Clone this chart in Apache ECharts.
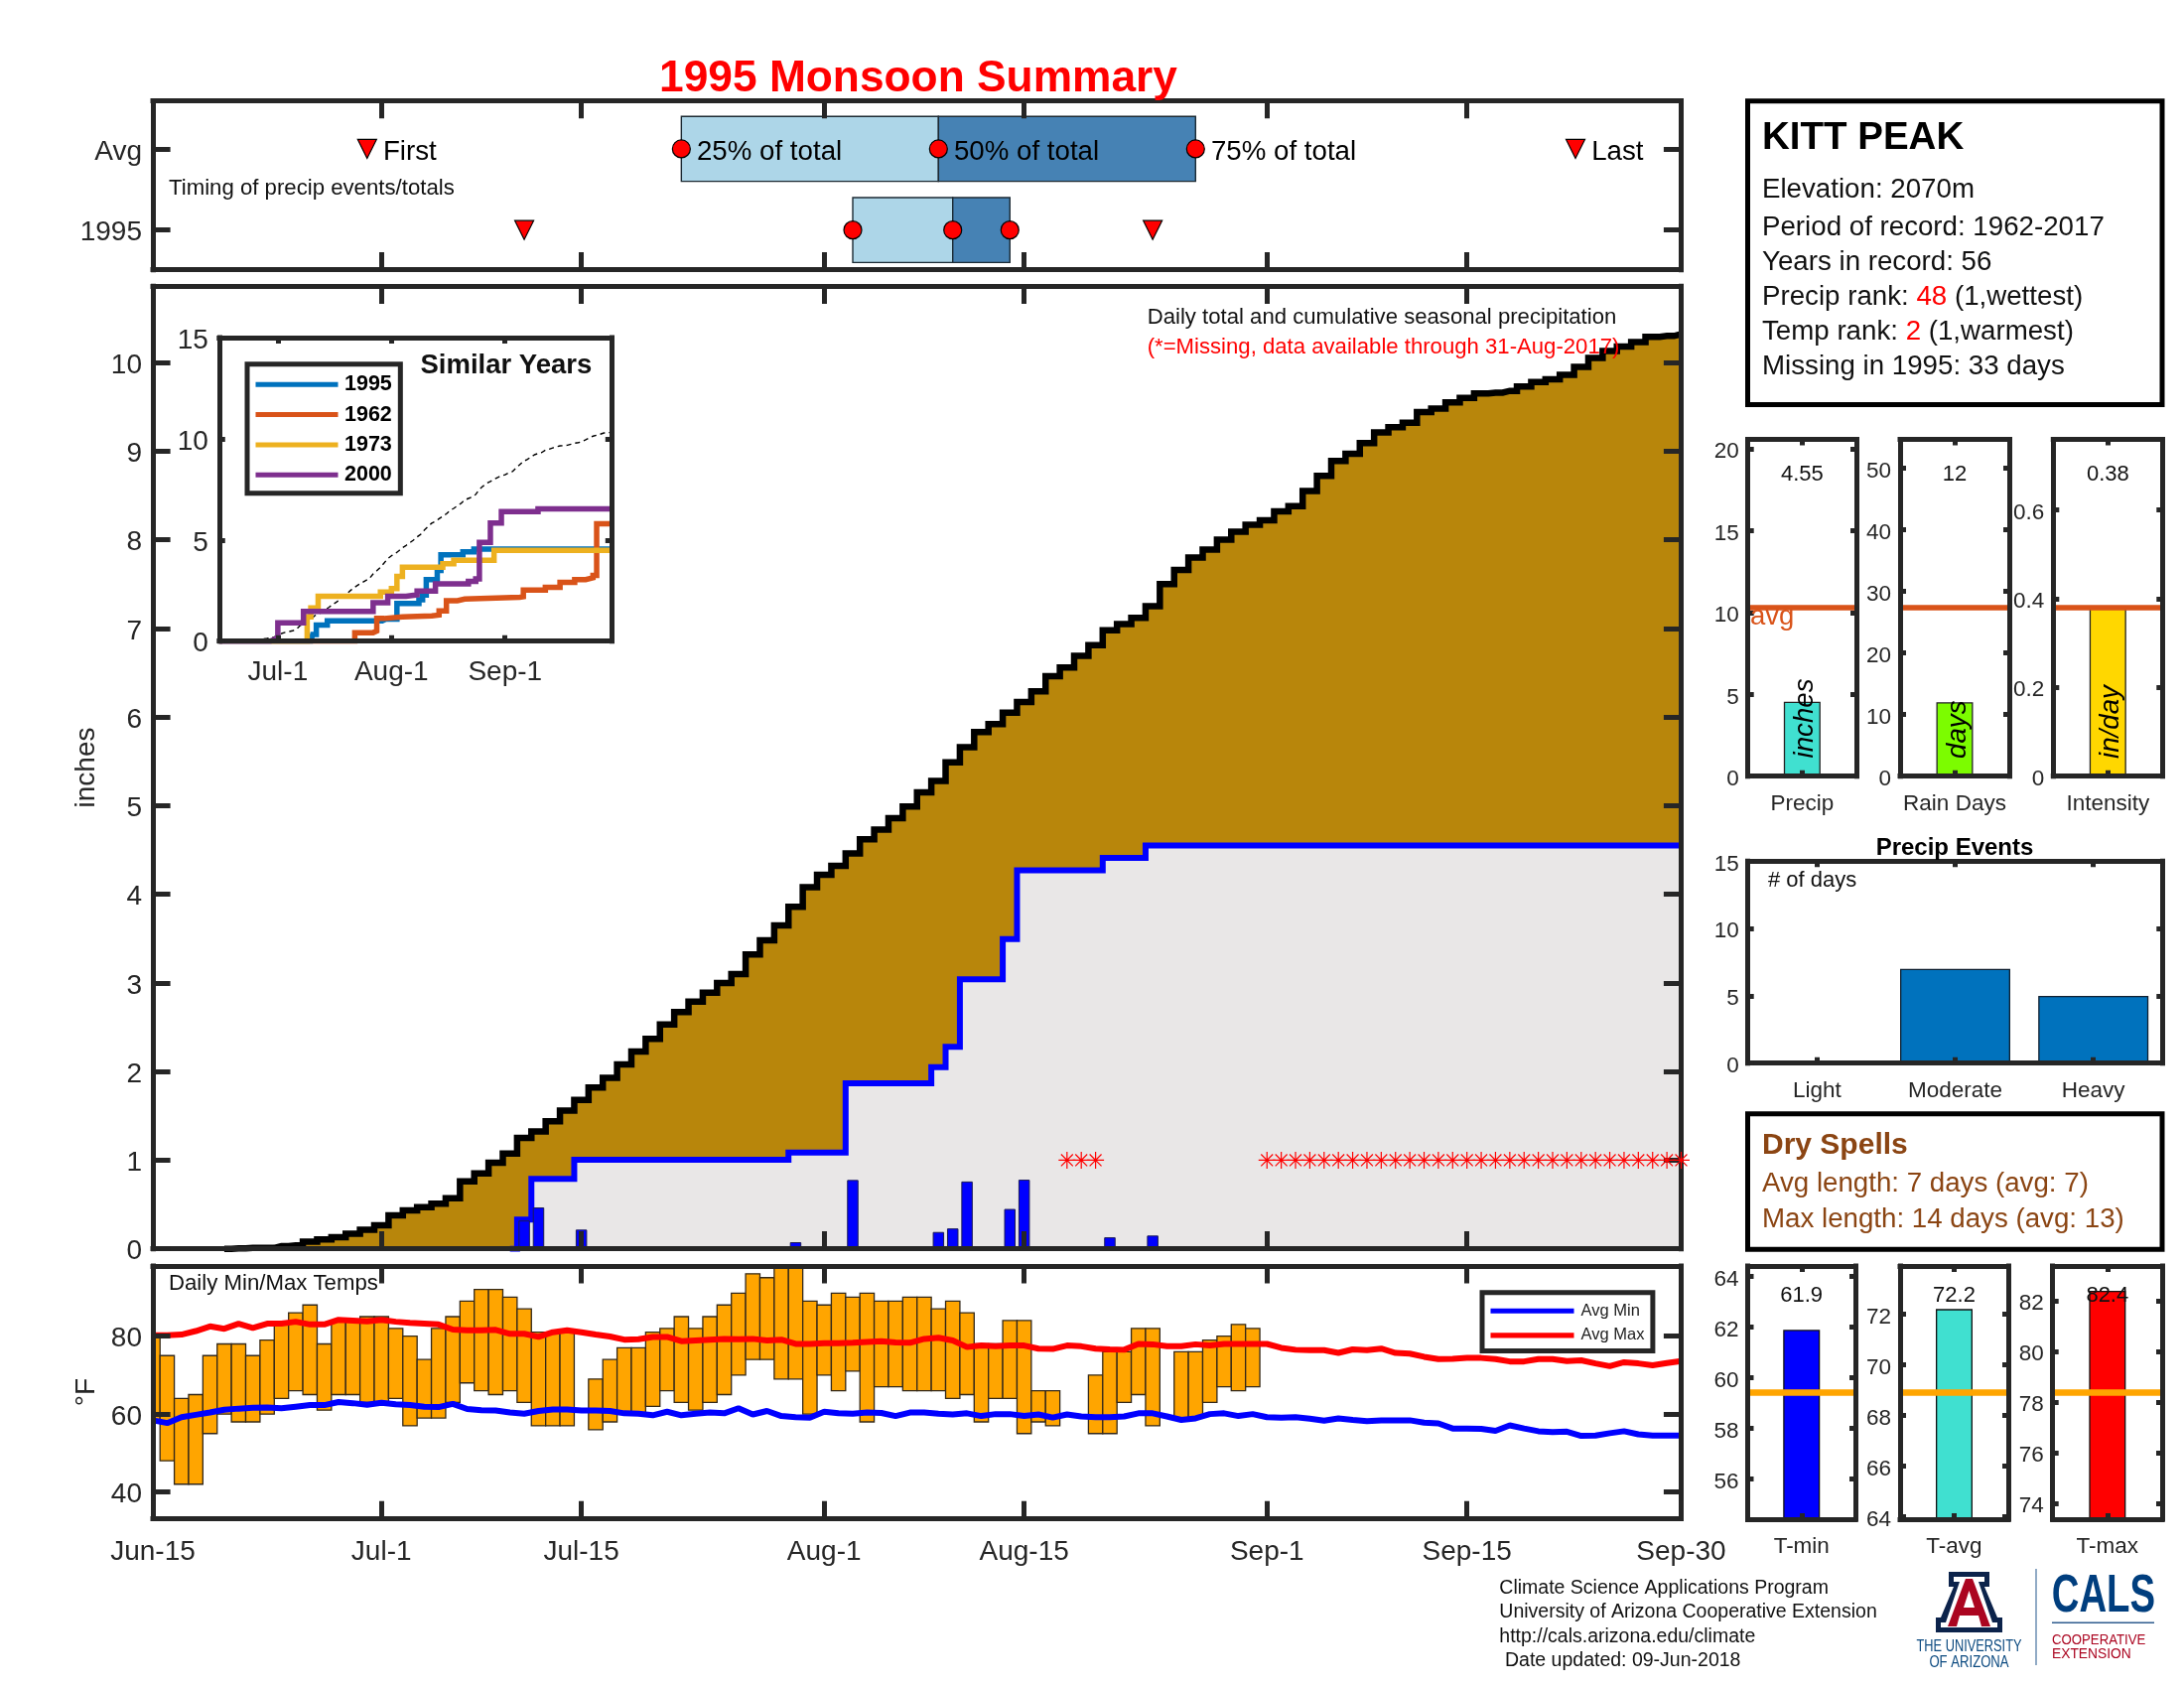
<!DOCTYPE html>
<html><head><meta charset="utf-8">
<style>html,body{margin:0;padding:0;background:#fff}#c{width:2200px;height:1700px}</style>
<script src="https://cdn.jsdelivr.net/npm/echarts@6/dist/echarts.min.js"></script>
</head><body><div id="c"></div>
<script>
// ---------- data (x = days since Jun-15) ----------
const dateTicks = [0,16,30,47,61,78,92,107];
const dateLabels = ['Jun-15','Jul-1','Jul-15','Aug-1','Aug-15','Sep-1','Sep-15','Sep-30'];
const insetTicks = [16,47,78];
const insetLabels = ['Jul-1','Aug-1','Sep-1'];

const avgCum = [0,0,0,0,0,0,.005,.01,.01,.03,.04,.08,.105,.13,.17,.215,.265,.377,.433,.47,.51,.57,.76,.85,.97,1.075,1.25,1.325,1.44,1.56,1.68,1.82,1.93,2.08,2.225,2.37,2.53,2.67,2.79,2.89,3.0,3.1,3.32,3.48,3.65,3.86,4.08,4.22,4.32,4.46,4.62,4.73,4.86,4.99,5.15,5.28,5.49,5.66,5.83,5.92,6.05,6.17,6.29,6.46,6.56,6.69,6.81,6.98,7.05,7.12,7.25,7.5,7.66,7.8,7.89,8.0,8.09,8.17,8.22,8.32,8.38,8.55,8.72,8.89,8.97,9.09,9.21,9.27,9.32,9.44,9.48,9.55,9.6,9.65,9.66,9.68,9.73,9.78,9.81,9.86,9.95,10.05,10.13,10.18,10.23,10.29,10.3,10.32];
const cum1995 = [0,0,0,0,0,0,0,0,0,0,0,0,0,0,0,0,0,0,0,0,0,0,0,0,0,0,.33,.79,.79,.79,1.005,1.005,1.005,1.005,1.005,1.005,1.005,1.005,1.005,1.005,1.005,1.005,1.005,1.005,1.005,1.087,1.087,1.087,1.087,1.867,1.867,1.867,1.867,1.867,1.867,2.05,2.28,3.04,3.04,3.04,3.495,4.27,4.27,4.27,4.27,4.27,4.27,4.41,4.41,4.41,4.55,4.55,4.55,4.55,4.55,4.55,4.55,4.55,4.55,4.55,4.55,4.55,4.55,4.55,4.55,4.55,4.55,4.55,4.55,4.55,4.55,4.55,4.55,4.55,4.55,4.55,4.55,4.55,4.55,4.55,4.55,4.55,4.55,4.55,4.55,4.55,4.55,4.55];
const rainDays = [26,27,30,45,49,55,56,57,60,61,67,70];
const rainVals = [.32,.467,.217,.075,.777,.19,.23,.76,.45,.78,.13,.15];
const missingDays = [64,65,66,78,79,80,81,82,83,84,85,86,87,88,89,90,91,92,93,94,95,96,97,98,99,100,101,102,103,104,105,106,107];

const steps1962 = [[0,0],[37,.42],[42,.5],[43,1.12],[45,1.2],[50,1.25],[58,1.29],[60,1.5],[62,2.0],[65,2.08],[67,2.17],[82,2.2],[83,2.52],[89,2.66],[93,2.9],[97,3.04],[100,3.13],[102,3.25],[103,5.8],[107,5.8]];
const steps1973 = [[14,0],[24,1.2],[25,1.64],[27,2.22],[44,2.43],[47,2.6],[48.5,3.2],[50,3.65],[61,3.83],[64,4.0],[75,4.49],[107,4.49]];
const steps2000 = [[0,0],[14,.08],[15,.16],[16,.91],[23,1.47],[42,1.9],[46,2.22],[51,2.29],[54,2.48],[59,2.83],[68,2.95],[70,3.08],[71,4.88],[74,5.84],[77,6.4],[87,6.54],[107,6.54]];

const tMax = [80,75,64,65,75,78,78,75,79,83,86,88,78,84,84,85,85,82,80,74,82,85,89,92,92,90,87,81,81,81,null,69,74,77,77,81,82,85,82,85,88,91,96,95,99,99,89,88,91,90,91,89,89,90,90,87,89,86,78,78,84,84,66,66,null,null,70,76,76,82,82,null,76,76,79,80,83,82];
const tMin = [58,48,42,42,55,60,58,58,60,64,66,65,61,65,65,63,63,64,57,59,59,63,68,66,65,66,63,57,57,57,null,56,58,60,60,62,66,63,61,63,65,70,74,74,69,69,60,70,66,71,58,67,67,66,66,66,64,65,58,64,64,55,58,57,null,null,55,55,63,65,57,null,59,59,63,67,66,67];
const avgMax = [80.2,80.2,80.4,81.3,82.5,81.9,83.2,82.1,83.2,83.2,83.7,83,83,84.2,84,83.8,84.2,83.7,83.4,83.2,83,81.7,81.5,81.5,81.6,80.6,80.6,79.8,81,81.5,81,80.4,79.9,79.1,79.2,79.8,79.8,78.7,78.9,79.1,79.3,79.2,79.3,78.9,79.1,78,78,78.2,78.2,78.3,78.5,78.7,78.4,78.3,79.3,79.6,78.9,77.2,77.6,77.4,77.6,77.6,76.8,76.7,77.6,77.4,76.8,76.6,76.5,78,77.9,77.4,77.4,77.9,77.6,78,78,78,78,77,76.5,76.4,76.4,75.7,76.6,76.4,76.8,75.7,75.5,74.7,74.1,74.2,74.4,74.4,74.1,73.5,73.5,74.1,74.1,73.6,73.8,73,72.3,73.3,73,72.5,73.1,73.6];
const avgMin = [58.4,57.7,59.2,59.8,60.4,61.1,61.4,61.6,61.7,61.5,61.9,62.3,62.3,63.1,62.8,62.4,62.9,62.5,62.3,61.9,61.8,62.6,61.3,61,60.9,60.4,60.1,60.8,61.2,61.2,60.9,60.9,60.8,60.2,60.1,59.7,60.6,59.7,60.1,60.4,60.2,61.5,59.9,60.8,59.5,59.2,59.1,60.6,60.2,60.1,60.4,60.3,59.5,60.4,60.4,60.1,59.9,60.2,59.5,60,60,59.5,59.9,59.1,59.9,59.4,59.2,59.2,59.4,60.2,60.2,59.4,58.5,58.9,60,60.2,59.5,60,59.2,59.1,59.2,58.8,58.3,58.9,58.5,58.2,58.4,58.4,58.4,57.8,57.6,56.3,56.3,56.2,55.7,57.1,56.3,55.6,55.4,55.5,54.4,54.5,55.1,55.6,54.8,54.5,54.5,54.5];

const timingAvg = [37,55,73];
const timing1995 = [49,56,60];
const timingNames = ['25% of total','50% of total','75% of total'];
const firstLastAvg = [15,99.6];
const firstLast1995 = [26,70];
const firstLastNames = ['First','Last'];

const statCats = ['Precip','Rain Days','Intensity'];
const statVals = [4.55,12,0.38];
const statAvg = [10.3,27.4,0.38];
const statUnits = ['inches','days','in/day'];
const eventCats = ['Light','Moderate','Heavy'];
const eventVals = [0,7,5];
const tempCats = ['T-min','T-avg','T-max'];
const tempVals = [61.9,72.2,82.4];
const tempAvg = [59.43,68.9,78.4];

// ---------- helpers ----------
const FONT = '"Liberation Sans", Arial, sans-serif';
const INK = '#262626';
const grids = [], xAxes = [], yAxes = [], series = [];

function panel(r, o) {
  const g = grids.length;
  grids.push({left:r[0], top:r[1], width:r[2]-r[0], height:r[3]-r[1], containLabel:false, outerBoundsMode:'none'});
  const len = o.tick, fs = o.fs || 28;
  const line = {show:true, onZero:false, lineStyle:{color:o.frame||INK, width:5, cap:'square'}};
  const tickX = {show:true, inside:true, length:len, lineStyle:{color:INK, width:5}};
  function ax(isX, pos, show) {
    const s = isX ? o.x : o.y;
    const a = {gridIndex:g, position:pos, z:10, silent:true, splitLine:{show:false}, axisLine:line, splitArea:{show:false}};
    if (s.cats) {
      a.type = 'category'; a.data = s.cats;
      a.axisTick = Object.assign({}, tickX, {alignWithLabel:true});
      a.axisLabel = {show, color:INK, fontFamily:FONT, fontSize:fs, margin:s.margin, interval:0};
    } else {
      a.type = 'value'; a.min = s.min; a.max = s.max; a.scale = true;
      a.axisTick = Object.assign({}, tickX, {customValues:s.ticks});
      const name = v => s.labels ? s.labels[s.ticks.indexOf(v)] : String(v);
      a.axisLabel = {show, color:INK, fontFamily:FONT, fontSize:fs, margin:s.margin, customValues:s.ticks, showMinLabel:true, showMaxLabel:true, hideOverlap:false,
        formatter:isX ? name : v => `{a|${name(v)}}`,
        rich:isX ? undefined : {a:{color:INK, fontFamily:FONT, fontSize:fs, padding:[6,0,0,0]}}};
    }
    if (show && s.name) { a.name = s.name; a.nameLocation = 'middle'; a.nameGap = s.nameGap; a.nameRotate = 90;
      a.nameTextStyle = {color:INK, fontFamily:FONT, fontSize:fs}; }
    return a;
  }
  xAxes.push(ax(true,'bottom',!!o.x.show), ax(true,'top',false));
  yAxes.push(ax(false,'left',o.y.show!==false), ax(false,'right',false));
  return {xAxisIndex:xAxes.length-2, yAxisIndex:yAxes.length-2};
}
const pairs = (xs, ys) => xs.map((x,i) => [x, ys[i]]);
const daily = a => a.map((v,i) => [i, v]);

// ---------- timing panel ----------
const T = panel([154,101.7,1693.5,271.7], {tick:17.6, x:{min:0,max:107,ticks:dateTicks.slice(1,-1)},
  y:{min:0.51,max:2.59,ticks:[1,2],labels:['1995','Avg'],margin:11}});
function renderSpan(p, api) {
  const a = api.coord([api.value(0), api.value(2)+0.4]), b = api.coord([api.value(1), api.value(2)-0.4]);
  return {type:'rect', shape:{x:a[0],y:a[1],width:b[0]-a[0],height:b[1]-a[1]},
    style:{fill:api.value(3)===0?'#ADD6E8':'#4682B4', stroke:'#1c2a33', lineWidth:1.4}};
}
series.push(Object.assign({type:'custom', renderItem:renderSpan, encode:{x:[0,1],y:2}, z:3, silent:true,
  data:[[timingAvg[0],timingAvg[1],2,0],[timingAvg[1],timingAvg[2],2,1],[timing1995[0],timing1995[1],1,0],[timing1995[1],timing1995[2],1,1]]}, T));
const labelT = {show:true, position:'right', distance:6, opacity:1, rich:{a:{color:'#000', fontFamily:FONT, fontSize:27.7, padding:[6,0,0,0]}}};
const mark = {color:'#FF0000', borderColor:'#000', borderWidth:1.2, opacity:1};
series.push(Object.assign({type:'scatter', symbol:'circle', symbolSize:18, z:5, silent:true,
  itemStyle:mark, label:Object.assign({},labelT,{formatter:p=>`{a|${timingNames[p.dataIndex]}}`}),
  data:timingAvg.map(d=>[d,2])}, T));
series.push(Object.assign({type:'scatter', symbol:'circle', symbolSize:18, z:5, silent:true,
  itemStyle:mark, data:timing1995.map(d=>[d,1])}, T));
series.push(Object.assign({type:'scatter', symbol:'triangle', symbolRotate:180, symbolSize:19, z:5, silent:true,
  itemStyle:mark, label:Object.assign({},labelT,{formatter:p=>`{a|${firstLastNames[p.dataIndex]}}`}),
  data:firstLastAvg.map(d=>[d,2])}, T));
series.push(Object.assign({type:'scatter', symbol:'triangle', symbolRotate:180, symbolSize:19, z:5, silent:true,
  itemStyle:mark, data:firstLast1995.map(d=>[d,1])}, T));

// ---------- main precipitation panel ----------
const M = panel([154,288.3,1693.5,1257.7], {tick:17.6, x:{min:0,max:107,ticks:dateTicks.slice(1,-1)},
  y:{min:0,max:10.86,ticks:[0,1,2,3,4,5,6,7,8,9,10],margin:11,name:'inches',nameGap:50}});
series.push(Object.assign({type:'line', step:'middle', showSymbol:false, symbol:'none', z:2, silent:true,
  lineStyle:{color:'#000',width:6.5,join:'miter'}, areaStyle:{color:'#B8860B',opacity:1}, data:daily(avgCum).slice(5)}, M));
series.push(Object.assign({type:'line', step:'middle', showSymbol:false, symbol:'none', z:3, silent:true,
  lineStyle:{color:'#0000FF',width:6,join:'miter'}, areaStyle:{color:'#E9E7E7',opacity:1}, data:daily(cum1995).slice(25)}, M));
series.push(Object.assign({type:'bar', barWidth:11.5, z:4, silent:true,
  itemStyle:{color:'#0000FF', borderColor:'#1a1a55', borderWidth:1}, data:pairs(rainDays,rainVals)}, M));
series.push(Object.assign({type:'scatter', symbol:'path://M10 0V20M0 10H20M3 3L17 17M3 17L17 3', symbolSize:17, clip:false, z:12, silent:true,
  itemStyle:{color:'none', borderColor:'#FF0000', borderWidth:1.2, opacity:1}, data:missingDays.map(d=>[d,1])}, M));

// ---------- inset ----------
const I = panel([220.8,340,615.8,645.7], {tick:6, fs:28, x:{min:0,max:107,ticks:insetTicks,labels:insetLabels,show:true,margin:18},
  y:{min:0,max:15,ticks:[0,5,10,15],margin:11}});
const stepLine = (name,color,z,extra,data) => Object.assign({type:'line', name, showSymbol:false, symbol:'none', z, silent:true,
  lineStyle:{color,width:5.5,join:'miter'}, itemStyle:{color}, data}, extra, I);
series.push(Object.assign({type:'line', name:'avg', showSymbol:false, symbol:'none', z:3, silent:true,
  lineStyle:{color:'#000',width:1.4,type:[5,4]}, data:daily(avgCum)}, I));
series.push(stepLine('1995','#0072BD',4,{step:'middle'},daily(cum1995)));
series.push(stepLine('1962','#D95319',5,{step:'end'},steps1962));
series.push(stepLine('1973','#EDB120',6,{step:'end'},steps1973));
series.push(stepLine('2000','#7E2F8E',7,{step:'end'},steps2000));

// ---------- temperature panel ----------
const P = panel([154,1275,1693.5,1529.3], {tick:17.6, x:{min:0,max:107,ticks:dateTicks.slice(0),labels:dateLabels,show:true,margin:20},
  y:{min:33.2,max:98,ticks:[40,60,80],margin:11,name:'°F',nameGap:50}});
series.push(Object.assign({type:'custom', z:3, silent:true, encode:{x:0,y:[1,2]},
  renderItem:(p,api)=>{
    const x = api.value(0), a = api.coord([x,api.value(2)]), b = api.coord([x,api.value(1)]), w = api.size([1,0])[0];
    const rect = echarts.graphic.clipRectByRect({x:a[0]-w/2,y:a[1],width:w,height:b[1]-a[1]},
      {x:p.coordSys.x,y:p.coordSys.y,width:p.coordSys.width,height:p.coordSys.height});
    return rect && {type:'rect', shape:rect, style:{fill:'#FFA500',stroke:'#33281a',lineWidth:1.3}};
  },
  data:tMax.map((v,i)=>[i,tMin[i],v]).filter(r=>r[2]!==null)}, P));
series.push(Object.assign({type:'line', name:'Avg Min', showSymbol:false, symbol:'none', z:5, silent:true,
  lineStyle:{color:'#0000FF',width:6}, itemStyle:{color:'#0000FF'}, data:daily(avgMin)}, P));
series.push(Object.assign({type:'line', name:'Avg Max', showSymbol:false, symbol:'none', z:5, silent:true,
  lineStyle:{color:'#FF0000',width:6}, itemStyle:{color:'#FF0000'}, data:daily(avgMax)}, P));

// ---------- small stat panels ----------
function statPanel(r, cat, val, avg, y, fill, edge, avgColor, avgWidth) {
  const a = panel(r, {tick:6, fs:22.5, x:{cats:[cat],show:true,margin:16.5}, y:Object.assign({margin:9},y)});
  series.push(Object.assign({type:'bar', barWidth:37, z:3, silent:true, itemStyle:{color:fill,borderColor:edge,borderWidth:1.3}, data:[val],
    markLine:{silent:true,symbol:'none',label:{show:false},animation:false,z:6,lineStyle:{color:avgColor,width:avgWidth,type:'solid',cap:'butt'},data:[{yAxis:avg}]}}, a));
}
statPanel([1760.7,442.4,1870,781.7], statCats[0], statVals[0], statAvg[0], {min:0,max:20.6,ticks:[0,5,10,15,20]}, '#40E0D0','#222','#D95319',5.5);
statPanel([1914,442.4,2024,781.7], statCats[1], statVals[1], statAvg[1], {min:0,max:54.7,ticks:[0,10,20,30,40,50]}, '#7CFC00','#222','#D95319',5.5);
statPanel([2068.3,442.4,2178.3,781.7], statCats[2], statVals[2], statAvg[2], {min:0,max:0.759,ticks:[0,0.2,0.4,0.6]}, '#FFD700','#222','#D95319',5.5);
statPanel([1760.5,1275,1869,1530], tempCats[0], tempVals[0], tempAvg[0], {min:54.42,max:64.42,ticks:[56,58,60,62,64]}, '#0000FF','#111','#FFA500',6.5);
statPanel([1914,1275,2023,1530], tempCats[1], tempVals[1], tempAvg[1], {min:63.9,max:73.9,ticks:[64,66,68,70,72]}, '#40E0D0','#111','#FFA500',6.5);
statPanel([2067.7,1275,2178,1530], tempCats[2], tempVals[2], tempAvg[2], {min:73.38,max:83.38,ticks:[74,76,78,80,82]}, '#FF0000','#111','#FFA500',6.5);

// ---------- precip events ----------
const E = panel([1760.7,867.3,2178.3,1070.7], {tick:6, fs:22.5, x:{cats:eventCats,show:true,margin:16.5}, y:{min:0,max:15,ticks:[0,5,10,15],margin:9}});
series.push(Object.assign({type:'bar', barWidth:111, z:3, silent:true, itemStyle:{color:'#0072BD',borderColor:'#102030',borderWidth:1.3}, data:eventVals}, E));

// ---------- text / decorations ----------
const txt = (text,x,y,font,fill,extra) => Object.assign({type:'text',x,y:y+3,z:40,silent:true,
  style:Object.assign({text,font,fill,align:'left',verticalAlign:'middle'},(extra&&extra.style)||{})},
  extra?Object.fromEntries(Object.entries(extra).filter(e=>e[0]!=='style')):{});
const F = (s,b,i) => `${i?'italic ':''}${b?'bold ':''}${s}px ${FONT}`;
const box = (x0,y0,x1,y1,stroke) => ({type:'rect',z:30,silent:true,shape:{x:x0,y:y0,width:x1-x0,height:y1-y0},style:{fill:'rgba(0,0,0,0)',stroke:stroke||'#000',lineWidth:5}});
const red = {r:{fill:'#FF0000',font:F(27.7)}};
const brown = '#8B4513';
const els = [
  txt('1995 Monsoon Summary',925,77,F(44.3,true),'#FF0000',{style:{align:'center'}}),
  txt('Timing of precip events/totals',170,187,F(22.2),'#111'),
  txt('Daily total and cumulative seasonal precipitation',1155.7,316.5,F(22.15),'#111'),
  txt('(*=Missing, data available through 31-Aug-2017)',1155.7,347,F(22.15),'#FF0000'),
  txt('Daily Min/Max Temps',170,1289.7,F(22.2),'#111'),
  txt('Similar Years',423.5,365,F(27.5,true),'#111'),
  box(1760.5,101.7,2178,407.5),
  txt('KITT PEAK',1775,136,F(38.5,true),'#000'),
  txt('Elevation: 2070m',1775,188,F(27.7),'#111'),
  txt('Period of record: 1962-2017',1775,226,F(27.7),'#111'),
  txt('Years in record: 56',1775,261.5,F(27.7),'#111'),
  txt('Precip rank: {r|48} (1,wettest)',1775,296.5,F(27.7),'#111',{style:{rich:red}}),
  txt('Temp rank: {r|2} (1,warmest)',1775,331.5,F(27.7),'#111',{style:{rich:red}}),
  txt('Missing in 1995: 33 days',1775,366.5,F(27.7),'#111'),
  txt('avg',1763,618,F(27.5),'#D95319'),
  txt('Precip Events',1969,851.5,F(24,true),'#000',{style:{align:'center'}}),
  txt('# of days',1781,884,F(22),'#111'),
  box(1760.5,1121.7,2178,1258.3),
  txt('Dry Spells',1775,1150.7,F(30,true),brown),
  txt('Avg length: 7 days (avg: 7)',1775,1189,F(27.7),brown),
  txt('Max length: 14 days (avg: 13)',1775,1225,F(27.7),brown),
  txt(String(statVals[0]),1815.3,475,F(22),'#111',{style:{align:'center'}}),
  txt(String(statVals[1]),1969,475,F(22),'#111',{style:{align:'center'}}),
  txt(String(statVals[2]),2123.3,475,F(22),'#111',{style:{align:'center'}}),
  txt(statUnits[0],1818,720.5,F(27.7,false,true),'#000',{rotation:Math.PI/2,style:{align:'center'}}),
  txt(statUnits[1],1972,731.7,F(27.7,false,true),'#000',{rotation:Math.PI/2,style:{align:'center'}}),
  txt(statUnits[2],2126.7,724,F(27.7,false,true),'#000',{rotation:Math.PI/2,style:{align:'center'}}),
  txt(String(tempVals[0]),1814.7,1301.7,F(22),'#111',{style:{align:'center'}}),
  txt(String(tempVals[1]),1968.5,1301.7,F(22),'#111',{style:{align:'center'}}),
  txt(String(tempVals[2]),2122.8,1301.7,F(22),'#111',{style:{align:'center'}}),
  txt('Climate Science Applications Program',1510.3,1596.7,F(19.5),'#111'),
  txt('University of Arizona Cooperative Extension',1510.3,1621,F(19.5),'#111'),
  txt('http://cals.arizona.edu/climate',1510.3,1645.7,F(19.5),'#111'),
  txt('Date updated: 09-Jun-2018',1516,1670,F(19.5),'#111'),
  // logos
  {type:'polygon',z:40,silent:true,shape:{points:[[1963,1583],[2004,1583],[2004,1598],[1999,1598],[2012,1629],[2017,1629],[2017,1644],[1950,1644],[1950,1629],[1955,1629],[1968,1598],[1963,1598]]},style:{fill:'#0C234B'}},
  {type:'polygon',z:41,silent:true,shape:{points:[[1968,1588],[1999,1588],[1999,1593],[1993,1593],[2007,1634],[2012,1634],[2012,1639],[1955,1639],[1955,1634],[1960,1634],[1974,1593],[1968,1593]]},style:{fill:'#fff'}},
  {type:'polygon',z:42,silent:true,shape:{points:[[1980,1590],[1987,1590],[2005,1638],[1996,1638],[1993,1627],[1974,1627],[1971,1638],[1962,1638]]},style:{fill:'#AB0520'}},
  {type:'polygon',z:43,silent:true,shape:{points:[[1983.5,1602],[1989,1619],[1978,1619]]},style:{fill:'#fff'}},
  {type:'line',z:40,silent:true,shape:{x1:2051,y1:1580,x2:2051,y2:1677},style:{stroke:'#6c8fb3',lineWidth:1.5}},
  {type:'line',z:40,silent:true,shape:{x1:2067,y1:1634.3,x2:2170,y2:1634.3},style:{stroke:'#2f5d8f',lineWidth:1.5}},
  txt('THE UNIVERSITY',1983.5,1655.7,F(16),'#0C4A80',{scaleX:.8,style:{align:'center'}}),
  txt('OF ARIZONA',1983.5,1671.7,F(16),'#0C4A80',{scaleX:.82,style:{align:'center'}}),
  txt('CALS',2066.7,1605,F(54,true),'#003E7E',{scaleX:.71}),
  txt('COOPERATIVE',2067,1649,F(15),'#AB0520',{scaleX:.88}),
  txt('EXTENSION',2067,1663,F(15),'#AB0520',{scaleX:.92})
];

const lineIcon = 'path://M0 0H166V10H0Z';
const legendBase = {orient:'vertical', selectedMode:false, borderColor:INK, borderWidth:5, backgroundColor:'#fff', z:20, align:'left', icon:lineIcon};
const option = {
  animation:false, backgroundColor:'#fff', tooltip:{show:false},
  grid:grids, xAxis:xAxes, yAxis:yAxes, series,
  legend:[
    Object.assign({},legendBase,{left:249, top:366.8, padding:[9.5,8.5,7.5,8.5], itemWidth:83, itemHeight:22, itemGap:8.3,
      textStyle:{fontFamily:FONT,fontSize:21.5,fontWeight:'bold',color:'#000',padding:[0,0,0,1.5]}, data:['1995','1962','1973','2000']}),
    Object.assign({},legendBase,{left:1493, top:1301.7, padding:[10,8.5,7,8.5], itemWidth:84, itemHeight:16, itemGap:7.7,
      textStyle:{fontFamily:FONT,fontSize:16.5,color:'#222',padding:[0,0,0,2]}, data:['Avg Min','Avg Max']})
  ],
  graphic:{elements:els}
};
echarts.init(document.getElementById('c'),null,{renderer:'canvas',width:2200,height:1700}).setOption(option);
</script></body></html>
